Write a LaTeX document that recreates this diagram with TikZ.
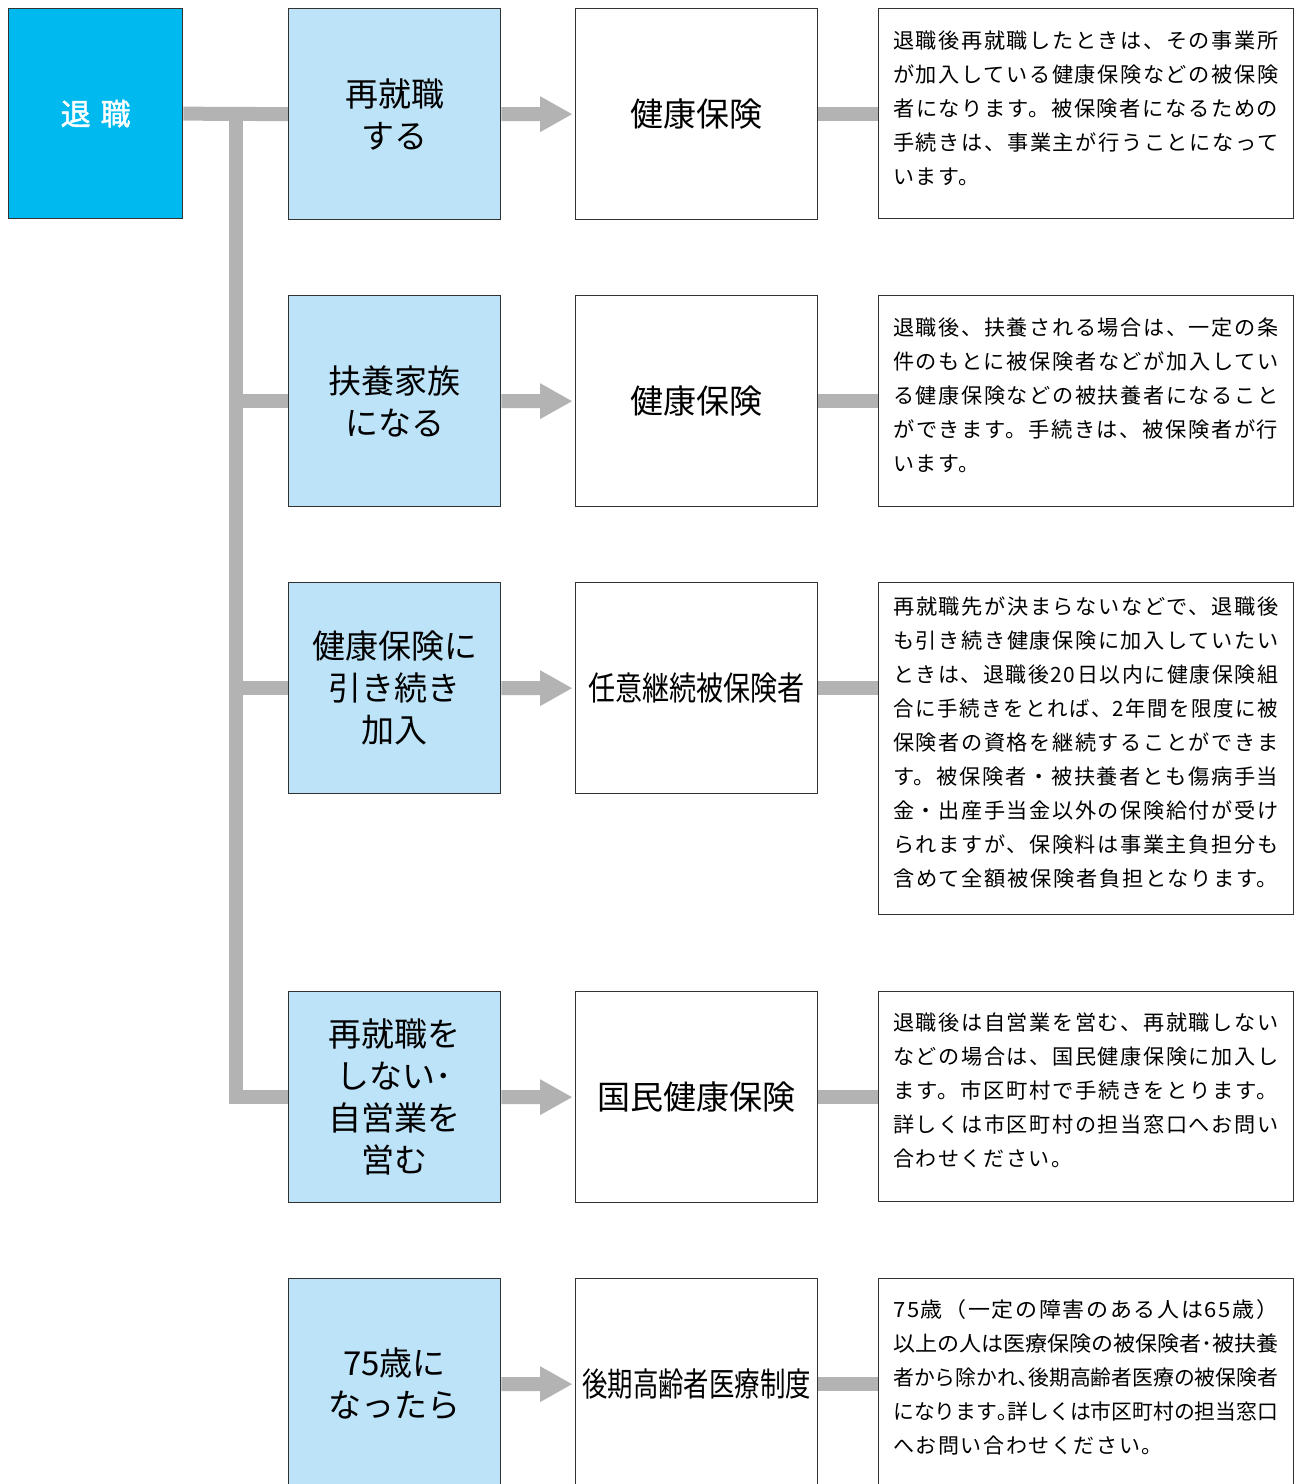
\documentclass[tikz,border=0pt]{standalone}
\usepackage{fontspec}
\usepackage{graphicx}
\usetikzlibrary{calc,backgrounds}
\newfontfamily\jp{Noto Sans CJK JP}
\newfontfamily\jpdesc[LetterSpace=7.6]{Noto Sans CJK JP}
\newfontfamily\jpbold[FakeBold=1.5]{Noto Sans CJK JP}
\definecolor{taicyan}{RGB}{0,185,238}
\definecolor{lblue}{RGB}{189,227,248}
\definecolor{conn}{RGB}{179,179,179}
\definecolor{frame}{RGB}{50,50,50}
\newcommand\fl[1]{\resizebox{385pt}{\height}{#1}}
\newcommand\gofwd[2]{%
  \fill[conn] ($(#1.east)+(0,-7)$) -- ($(#2.west)+(-35,-7)$) -- ($(#2.west)+(-35,-18)$)
    -- ($(#2.west)+(-3,0)$) -- ($(#2.west)+(-35,18)$) -- ($(#2.west)+(-35,7)$)
    -- ($(#1.east)+(0,7)$) -- cycle;}
\begin{document}
\begin{tikzpicture}[x=1pt,y=-1pt,
  box/.style={draw=frame, line width=1.3pt, inner sep=0pt, anchor=north west},
  startbox/.style={box, fill=taicyan, minimum width=174pt, minimum height=210pt,
    text=white, font=\jpbold\fontsize{30}{36}\selectfont},
  condbox/.style={box, fill=lblue, minimum width=212pt, minimum height=211pt,
    align=center, font=\jp\fontsize{33}{42}\selectfont},
  planbox/.style={box, fill=white, minimum width=242pt, minimum height=211pt,
    font=\jp\fontsize{33}{40}\selectfont},
  descbox/.style={box, fill=white, minimum width=415pt, minimum height=#1},
  descline/.style={anchor=base west, inner sep=0pt, font=\jpdesc\fontsize{21}{34}\selectfont},
  link/.style={draw=conn, line width=14pt, line join=miter}]
\useasboundingbox (0,0) rectangle (1294,1484);
\clip (0,0) rectangle (1294,1484);

% start
\node[startbox] (s) at (8,8) {退\hspace{10pt}職};

% conditions
\node[condbox] (c1) at (288,8) {再就職\\する};
\node[condbox] (c2) at (288,295) {扶養家族\\になる};
\node[condbox] (c3) at (288,582) {健康保険に\\引き続き\\加入};
\node[condbox] (c4) at (288,991) {再就職を\\しない･\\自営業を\\営む};
\node[condbox] (c5) at (288,1278) {75歳に\\なったら};

% plans
\node[planbox] (p1) at (575,8) {健康保険};
\node[planbox] (p2) at (575,295) {健康保険};
\node[planbox] (p3) at (575,582) {\scalebox{0.82}[1]{任意継続被保険者}};
\node[planbox] (p4) at (575,991) {国民健康保険};
\node[planbox] (p5) at (575,1278) {\scalebox{0.77}[1]{後期高齢者医療制度}};

% descriptions
\node[descbox=210pt] (d1) at (878,8) {};
\node[descbox=211pt] (d2) at (878,295) {};
\node[descbox=332pt] (d3) at (878,582) {};
\node[descbox=210pt] (d4) at (878,991) {};
\node[descbox=211pt] (d5) at (878,1278) {};

\node[descline] (d1a) at ($(d1.north west)+(15,40)$) {\fl{退職後再就職したときは、その事業所}};
\node[descline] (d1b) at ($(d1.north west)+(15,74)$) {\fl{が加入している健康保険などの被保険}};
\node[descline] (d1c) at ($(d1.north west)+(15,108)$) {\fl{者になります。被保険者になるための}};
\node[descline] (d1d) at ($(d1.north west)+(15,142)$) {\fl{手続きは、事業主が行うことになって}};
\node[descline] (d1e) at ($(d1.north west)+(15,176)$) {います。};

\node[descline] (d2a) at ($(d2.north west)+(15,40)$) {\fl{退職後、扶養される場合は、一定の条}};
\node[descline] (d2b) at ($(d2.north west)+(15,74)$) {\fl{件のもとに被保険者などが加入してい}};
\node[descline] (d2c) at ($(d2.north west)+(15,108)$) {\fl{る健康保険などの被扶養者になること}};
\node[descline] (d2d) at ($(d2.north west)+(15,142)$) {\fl{ができます。手続きは、被保険者が行}};
\node[descline] (d2e) at ($(d2.north west)+(15,176)$) {います。};

\node[descline] (d3a) at ($(d3.north west)+(15,32)$) {\fl{再就職先が決まらないなどで、退職後}};
\node[descline] (d3b) at ($(d3.north west)+(15,66)$) {\fl{も引き続き健康保険に加入していたい}};
\node[descline] (d3c) at ($(d3.north west)+(15,100)$) {\fl{ときは、退職後20日以内に健康保険組}};
\node[descline] (d3d) at ($(d3.north west)+(15,134)$) {\fl{合に手続きをとれば、2年間を限度に被}};
\node[descline] (d3e) at ($(d3.north west)+(15,168)$) {\fl{保険者の資格を継続することができま}};
\node[descline] (d3f) at ($(d3.north west)+(15,202)$) {\fl{す。被保険者・被扶養者とも傷病手当}};
\node[descline] (d3g) at ($(d3.north west)+(15,236)$) {\fl{金・出産手当金以外の保険給付が受け}};
\node[descline] (d3h) at ($(d3.north west)+(15,270)$) {\fl{られますが、保険料は事業主負担分も}};
\node[descline] (d3i) at ($(d3.north west)+(15,304)$) {\fl{含めて全額被保険者負担となります。}};

\node[descline] (d4a) at ($(d4.north west)+(15,39)$) {\fl{退職後は自営業を営む、再就職しない}};
\node[descline] (d4b) at ($(d4.north west)+(15,73)$) {\fl{などの場合は、国民健康保険に加入し}};
\node[descline] (d4c) at ($(d4.north west)+(15,107)$) {\fl{ます。市区町村で手続きをとります。}};
\node[descline] (d4d) at ($(d4.north west)+(15,141)$) {\fl{詳しくは市区町村の担当窓口へお問い}};
\node[descline] (d4e) at ($(d4.north west)+(15,175)$) {合わせください。};

\node[descline] (d5a) at ($(d5.north west)+(15,39)$) {\fl{75歳（一定の障害のある人は65歳）}};
\node[descline] (d5b) at ($(d5.north west)+(15,73)$) {\fl{\jp 以上の人は医療保険の被保険者･被扶養}};
\node[descline] (d5c) at ($(d5.north west)+(15,107)$) {\fl{\jp 者から除かれ､後期高齢者医療の被保険者}};
\node[descline] (d5d) at ($(d5.north west)+(15,141)$) {\fl{\jp になります｡詳しくは市区町村の担当窓口}};
\node[descline] (d5e) at ($(d5.north west)+(15,175)$) {へお問い合わせください。};

% connectors
\begin{scope}[on background layer]
  \coordinate (tk) at ($(s.east)!0.5!(c1.west)$);
  \draw[link] (s.east) -- (c1.west);
  \draw[link] (tk) -- (tk |- c4.west) -- (c4.west);
  \draw[link] (tk |- c2.west) -- (c2.west);
  \draw[link] (tk |- c3.west) -- (c3.west);
  \gofwd{c1}{p1}
  \gofwd{c2}{p2}
  \gofwd{c3}{p3}
  \gofwd{c4}{p4}
  \gofwd{c5}{p5}
  \draw[link] (p1.east) -- (p1.east -| d1.west);
  \draw[link] (p2.east) -- (p2.east -| d2.west);
  \draw[link] (p3.east) -- (p3.east -| d3.west);
  \draw[link] (p4.east) -- (p4.east -| d4.west);
  \draw[link] (p5.east) -- (p5.east -| d5.west);
\end{scope}
\end{tikzpicture}
\end{document}
